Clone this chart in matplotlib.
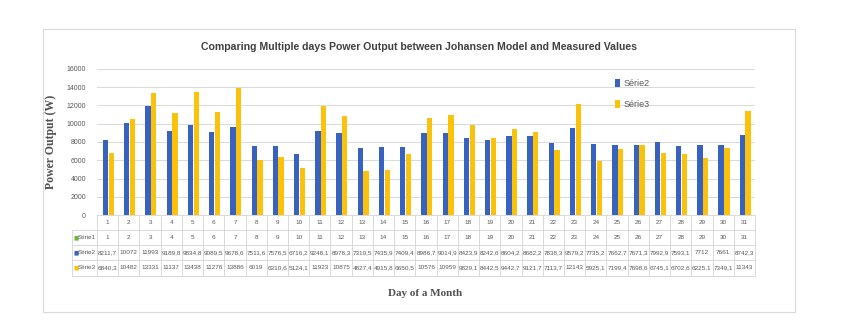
import numpy as np
import matplotlib
matplotlib.use('Agg')
from matplotlib import pyplot as plt
from matplotlib.patches import Rectangle

days = list(range(1, 32))
serie2 = [8211.7, 10072, 11993, 9189.8, 9834.8, 9089.5, 9678.6, 7511.6, 7576.5, 6716.2,
          9248.1, 8978.3, 7319.5, 7435.9, 7409.4, 8986.7, 9014.9, 8423.9, 8242.6, 8604.2,
          8682.2, 7838.3, 9579.2, 7735.2, 7662.7, 7671.3, 7992.9, 7593.1, 7712, 7661, 8742.3]
serie3 = [6840.3, 10482, 13331, 11137, 13438, 11276, 13886, 6019, 6310.6, 5124.1,
          11923, 10875, 4827.4, 4915.8, 6650.5, 10576, 10959, 9829.1, 8442.5, 9442.7,
          9121.7, 7113.7, 12143, 5925.1, 7199.4, 7698.6, 6745.1, 6702.6, 6225.1, 7349.1, 11343]
yticks = [0, 2000, 4000, 6000, 8000, 10000, 12000, 14000, 16000]

BLUE = '#3862C0'
YELLOW = '#FBC20C'
GREEN = '#6DB33F'
GRAY = '#595959'
SANS = 'Liberation Sans'

def fmt(v):
    return f"{v:g}".replace('.', ',')

fig = plt.figure(figsize=(8.66, 3.30), dpi=100)
# chart area frame
fig.patches.append(Rectangle((43 / 866, 1 - 312 / 330), (795 - 43) / 866, (312 - 29) / 330,
                             transform=fig.transFigure, fill=False, edgecolor='#D9D9D9', lw=0.8))

ax = fig.add_axes([97 / 866, 1 - 215 / 330, (755 - 97) / 866, (215 - 69) / 330])
x = np.arange(len(days))
w = 0.25
ax.bar(x - w / 2 + 0.03, serie2, w, color=BLUE, label='Série2', zorder=3)
ax.bar(x + w / 2 + 0.05, serie3, w, color=YELLOW, label='Série3', zorder=3)
ax.set_xlim(-0.5, len(days) - 0.5)
ax.set_ylim(0, 16000)
ax.set_yticks(yticks)
ax.set_yticklabels([str(t) for t in yticks], fontsize=5, color=GRAY, family=SANS)
ax.tick_params(axis='y', length=0, pad=8)
ax.set_xticks([])
ax.grid(axis='y', color='#D9D9D9', lw=0.7, zorder=0)
for s in ax.spines.values():
    s.set_visible(False)

ax.set_ylabel('Power Output (W)', family='Liberation Serif', fontweight='bold',
              fontsize=8.5, color='#505050', labelpad=7)
fig.text(419 / 866, 1 - 47 / 330,
         'Comparing Multiple days Power Output between Johansen Model and Measured Values',
         ha='center', va='center', fontsize=7.6, fontweight='bold', color='#404040', family=SANS)
fig.text(425 / 866, 1 - 293 / 330, 'Day of a Month', ha='center', va='center',
         family='Liberation Serif', fontweight='bold', fontsize=8, color='#505050')

ax.legend(loc='upper left', bbox_to_anchor=(0.775, 0.985), frameon=False,
          handlelength=0.5, handleheight=1.0, handletextpad=0.4, labelspacing=1.3,
          labelcolor=GRAY, prop={'family': SANS, 'size': 6.5})

# data table under the axis
tr = ax.get_xaxis_transform()
row_y = [0, -0.103, -0.205, -0.308, -0.418]
hx = -0.038
line_kw = dict(color='#D9D9D9', lw=0.7, clip_on=False)
rows = [[str(d) for d in days], [str(d) for d in days],
        [fmt(v) for v in serie2], [fmt(v) for v in serie3]]
for r, vals in enumerate(rows):
    yc = (row_y[r] + row_y[r + 1]) / 2
    for i, t in enumerate(vals):
        ax.text(i, yc, t, transform=tr, ha='center', va='center', fontsize=4.6,
                color=GRAY, family=SANS, clip_on=False)
for yy in row_y:
    ax.plot([-0.5, len(days) - 0.5], [yy, yy], transform=tr, **line_kw)
for yy in row_y[1:]:
    ax.plot([hx, 0], [yy, yy], transform=ax.transAxes, **line_kw)
ax.plot([hx, hx], [row_y[1], row_y[-1]], transform=ax.transAxes, **line_kw)
for i in range(len(days) + 1):
    ax.plot([i - 0.5, i - 0.5], [row_y[0], row_y[-1]], transform=tr, **line_kw)
labels = ['Série1', 'Série2', 'Série3']
colors = [GREEN, BLUE, YELLOW]
for k, (lab, c) in enumerate(zip(labels, colors)):
    yc = (row_y[k + 1] + row_y[k + 2]) / 2
    ax.text(hx + 0.002, yc, '■', transform=ax.transAxes, ha='left', va='center',
            fontsize=4, color=c, family='DejaVu Sans', clip_on=False)
    ax.text(hx + 0.009, yc, lab, transform=ax.transAxes, ha='left', va='center',
            fontsize=4.5, color=GRAY, family=SANS, clip_on=False)

fig.savefig('out.png', dpi=100)
